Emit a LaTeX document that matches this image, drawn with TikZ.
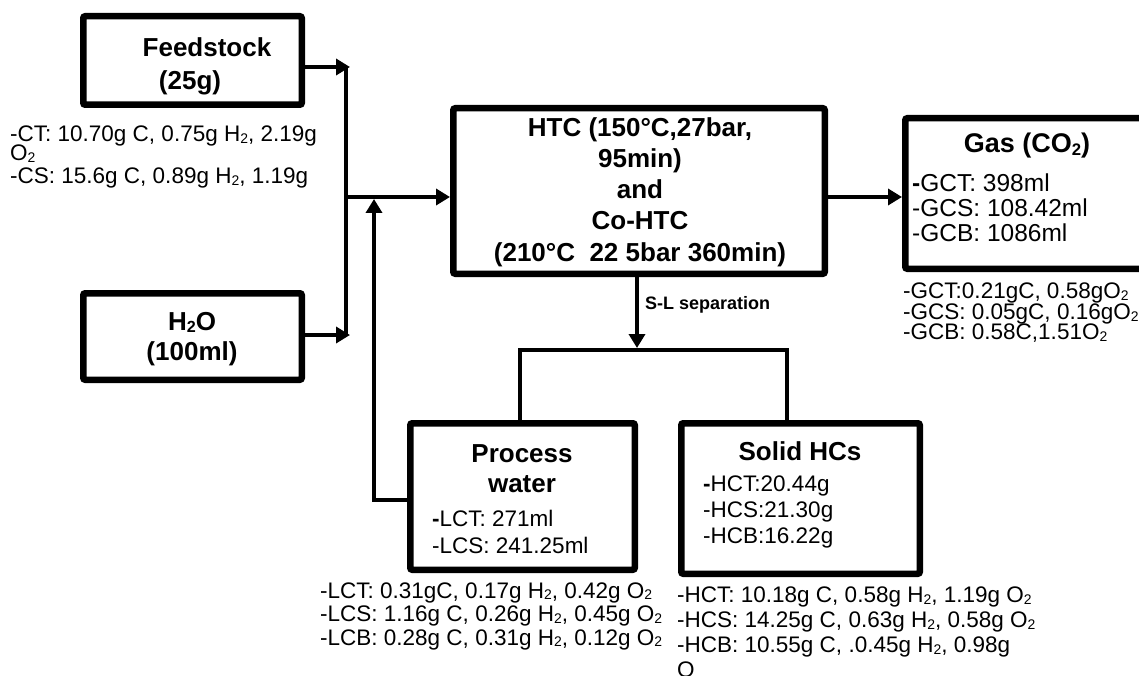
\documentclass[tikz,border=0pt]{standalone}
\usepackage{fontspec}
\setmainfont{Liberation Sans}
\usepackage{graphicx}
\usepackage{tikz}
\usetikzlibrary{
    calc,
    arrows.meta
}
\newcommand{\Sub}[1]{\raisebox{-0.08em}{\scalebox{0.62}{#1}}}
\newcommand{\Hsub}{H\Sub{2}}
\newcommand{\Osub}{O\Sub{2}}
\newcommand{\COsub}{CO\Sub{2}}

\begin{document}
\begin{tikzpicture}[x=1pt,y=-1pt,
  box/.style={draw,line width=6.5pt,rounded corners=2pt,inner sep=0pt},
  title/.style={font=\bfseries\fontsize{26}{31}\selectfont,align=center,inner sep=0pt},
  note/.style={font=\fontsize{22.5}{25}\selectfont,align=left,inner sep=0pt,anchor=west},
  link/.style={line width=4pt},
  arr/.style={link,-{Triangle[length=14pt,width=16pt]}}]
\useasboundingbox (0,0) rectangle (1139,676);
% boxes
\node [box,minimum width=218.5pt,minimum height=88.5pt] (feed) at (192.5,60.5) {};
\node [box,minimum width=218.5pt,minimum height=86.5pt] (water) at (192.5,336.5) {};
\node [box,minimum width=371.5pt,minimum height=165.5pt] (htc) at (639,191) {};
\node [box,minimum width=241.5pt,minimum height=150.5pt] (gas) at (1026,193.5) {};
\node [box,minimum width=224.5pt,minimum height=146.5pt] (proc) at (522.5,496.5) {};
\node [box,minimum width=238.5pt,minimum height=150.5pt] (solid) at (800.5,498.5) {};
% titles
\node [title] (feedA) at (207,47) {Feedstock};
\node [title] (feedB) at (190,83) {(25g)};
\node [title,font=\bfseries\fontsize{26}{30}\selectfont] (waterT) at (192,339) {\Hsub O\\(100ml)};
\node [title,font=\bfseries\fontsize{26}{31.25}\selectfont] (htcT) at (640,192)
  {HTC (150°C,27bar,\\95min)\\and\\Co-HTC\\(210°C\ \ 22 5bar 360min)};
\node [title,font=\bfseries\fontsize{27}{31}\selectfont] (gasT) at (1027,146) {Gas (\COsub)};
\node [title,font=\bfseries\fontsize{26}{30}\selectfont] (procT) at (522,469) {Process\\water};
\node [title] (solidT) at (800,451) {Solid HCs};
\node [title,anchor=west,font=\bfseries\fontsize{18}{20}\selectfont] (slT) at (645,305) {S-L separation};
% lists
\node [note,font=\fontsize{24.5}{25}\selectfont] (gasL) at (912,208)
  {\textbf{-}GCT: 398ml\\-GCS: 108.42ml\\-GCB: 1086ml};
\node [note,font=\fontsize{22.5}{27}\selectfont] (procL) at (432,532)
  {\textbf{-}LCT: 271ml\\-LCS: 241.25ml};
\node [note,font=\fontsize{22.5}{26}\selectfont] (solidL) at (703,512)
  {\textbf{-}HCT:20.44g\\-HCS:21.30g\\-HCB:16.22g};
\node [note,font=\fontsize{22.5}{21}\selectfont] (feedN) at (10,157)
  {-CT: 10.70g C, 0.75g \Hsub, 2.19g\\[-1.5pt]\Osub\\[2pt]-CS: 15.6g C, 0.89g \Hsub, 1.19g};
\node [note,font=\fontsize{22.5}{20.5}\selectfont] (gasN) at (903,313)
  {-GCT:0.21gC, 0.58g\Osub\\-GCS: 0.05gC, 0.16g\Osub\\-GCB: 0.58C,1.51\Osub};
\node [note,font=\fontsize{22.5}{23.5}\selectfont] (procN) at (320,616)
  {-LCT: 0.31gC, 0.17g \Hsub, 0.42g \Osub\\-LCS: 1.16g C, 0.26g \Hsub, 0.45g \Osub\\-LCB: 0.28g C, 0.31g \Hsub, 0.12g \Osub};
\node [note,font=\fontsize{22.5}{25}\selectfont] (solidN) at (677,632)
  {-HCT: 10.18g C, 0.58g \Hsub, 1.19g \Osub\\-HCS: 14.25g C, 0.63g \Hsub, 0.58g \Osub\\-HCB: 10.55g C, .0.45g \Hsub, 0.98g\\O};
% connectors
\coordinate (jtop) at (350,67);
\coordinate (jbot) at (350,335);
\coordinate (jmid) at (346,197);
\coordinate (rbot) at (374,500);
\coordinate (rtop) at (374,199);
\coordinate (gin) at (860,197);
\coordinate (split) at (637,348);
\coordinate (bl) at (520,350);
\coordinate (br) at (787,350);
\draw [arr] (feed.east |- jtop) -- (jtop);
\draw [arr] (water.east |- jbot) -- (jbot);
\draw [link] (jtop -| jmid) -- (jbot -| jmid);
\draw [arr] (jmid) -- (htc.west |- jmid);
\draw [arr] (proc.west |- rbot) -- (rbot) -- (rtop);
\draw [arr] (htc.east |- gin) -- (gas.west |- gin);
\draw [arr] (htc.south -| split) -- (split);
\draw [link] (proc.north -| bl) -- (bl) -- (br) -- (solid.north -| br);
\end{tikzpicture}
\end{document}
